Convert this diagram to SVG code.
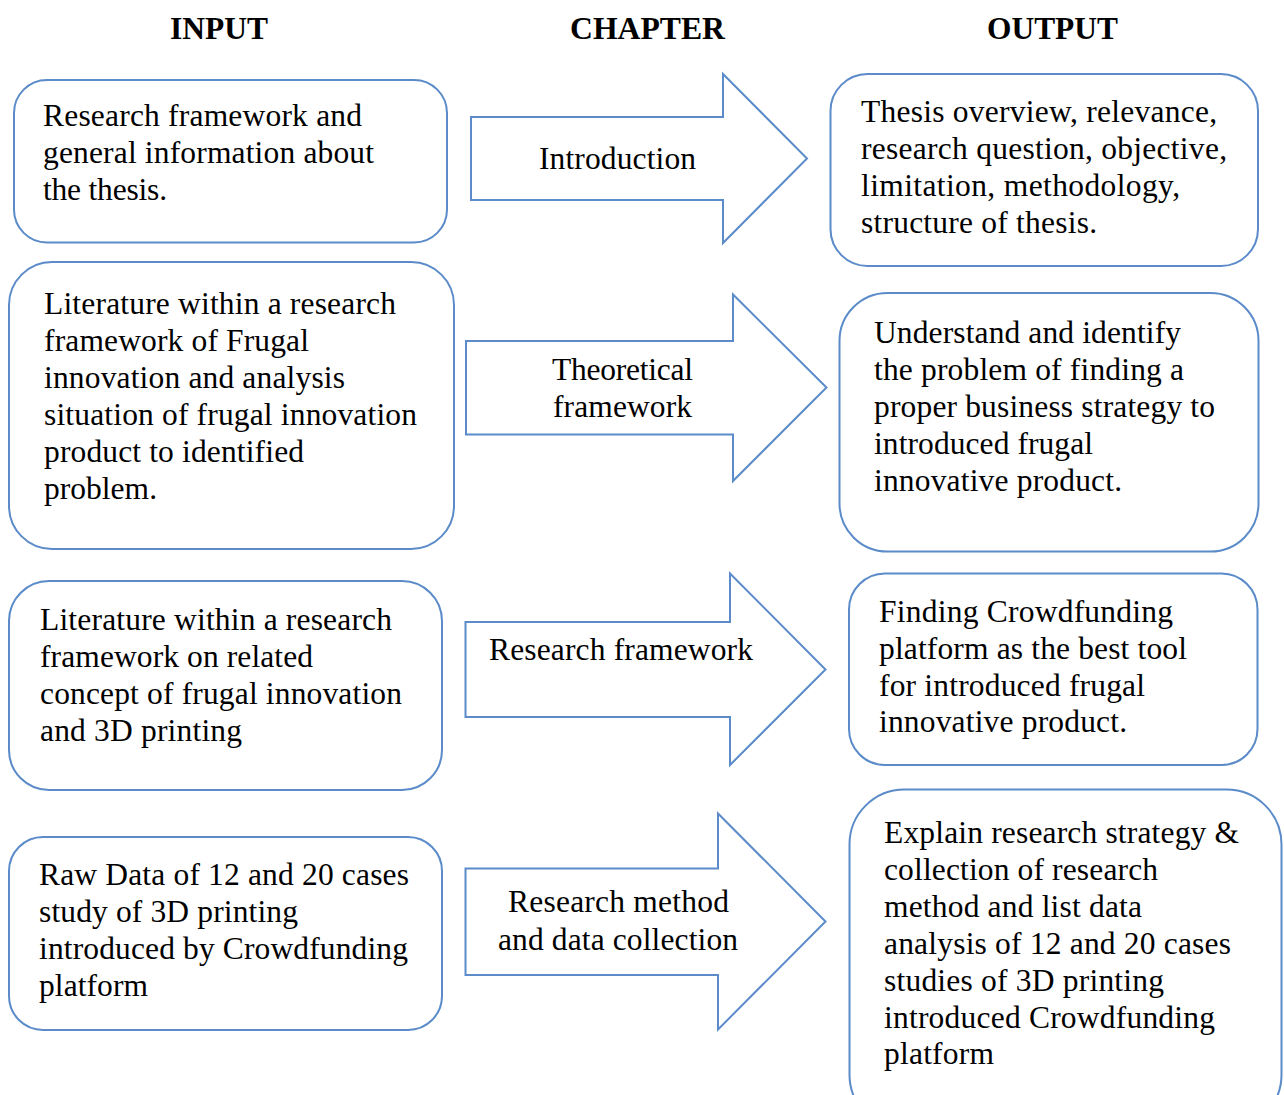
<svg xmlns="http://www.w3.org/2000/svg" width="1284" height="1095" viewBox="0 0 1284 1095">
  <style>
    .box { fill: #ffffff; stroke: #5b8bc9; stroke-width: 2; }
    .arrow { fill: #ffffff; stroke: #5b8bc9; stroke-width: 2; stroke-linejoin: miter; }
    text { font-family: "Liberation Serif", "Times New Roman", serif; font-size: 31.5px; fill: #000000; }
    .head { font-weight: bold; font-size: 31px; }
  </style>
  <rect width="1284" height="1095" fill="#ffffff"/>

  <!-- column headings -->
  <g id="headings">
    <text class="head" x="170" y="39" textLength="98" lengthAdjust="spacingAndGlyphs">INPUT</text>
    <text class="head" x="570" y="39" textLength="155" lengthAdjust="spacingAndGlyphs">CHAPTER</text>
    <text class="head" x="987" y="39" textLength="131" lengthAdjust="spacingAndGlyphs">OUTPUT</text>
  </g>

  <!-- chapter arrows -->
  <g id="connectors">
    <g id="arrow-introduction">
      <polygon class="arrow" points="471,117 723,117 723,74 807,158.5 723,243 723,200 471,200"/>
      <text x="539" y="169" textLength="157" lengthAdjust="spacing">Introduction</text>
    </g>
    <g id="arrow-theoretical">
      <polygon class="arrow" points="466,341 733,341 733,294.5 826.5,387.5 733,481 733,434.5 466,434.5"/>
      <text x="552" y="380" textLength="141" lengthAdjust="spacing">Theoretical</text>
      <text x="553" y="417" textLength="139" lengthAdjust="spacing">framework</text>
    </g>
    <g id="arrow-research-framework">
      <polygon class="arrow" points="465.5,622 730,622 730,573.5 825.5,669.5 730,765 730,717 465.5,717"/>
      <text x="489" y="660" textLength="264" lengthAdjust="spacing">Research framework</text>
    </g>
    <g id="arrow-research-method">
      <polygon class="arrow" points="465.5,868.5 718,868.5 718,813.5 825.5,921.5 718,1029.5 718,975 465.5,975"/>
      <text x="508" y="912" textLength="221" lengthAdjust="spacing">Research method</text>
      <text x="498" y="950" textLength="240" lengthAdjust="spacing">and data collection</text>
    </g>
  </g>

  <!-- input column -->
  <g id="input-1">
    <rect class="box" x="14" y="80" width="433" height="162.5" rx="33" ry="33"/>
    <text x="43" y="126" textLength="319" lengthAdjust="spacing">Research framework and</text>
    <text x="43" y="163" textLength="331" lengthAdjust="spacing">general information about</text>
    <text x="43" y="200" textLength="124" lengthAdjust="spacing">the thesis.</text>
  </g>
  <g id="input-2">
    <rect class="box" x="9" y="262" width="445" height="287" rx="43" ry="43"/>
    <text x="44" y="314" textLength="352" lengthAdjust="spacing">Literature within a research</text>
    <text x="44" y="351" textLength="265" lengthAdjust="spacing">framework of Frugal</text>
    <text x="44" y="388" textLength="301" lengthAdjust="spacing">innovation and analysis</text>
    <text x="44" y="425" textLength="373" lengthAdjust="spacing">situation of frugal innovation</text>
    <text x="44" y="462" textLength="260" lengthAdjust="spacing">product to identified</text>
    <text x="44" y="499" textLength="113" lengthAdjust="spacing">problem.</text>
  </g>
  <g id="input-3">
    <rect class="box" x="9" y="581" width="433" height="209" rx="40" ry="40"/>
    <text x="40" y="630" textLength="352" lengthAdjust="spacing">Literature within a research</text>
    <text x="40" y="667" textLength="273" lengthAdjust="spacing">framework on related</text>
    <text x="40" y="704" textLength="362" lengthAdjust="spacing">concept of frugal innovation</text>
    <text x="40" y="741" textLength="202" lengthAdjust="spacing">and 3D printing</text>
  </g>
  <g id="input-4">
    <rect class="box" x="9" y="837" width="433" height="193" rx="34" ry="34"/>
    <text x="39" y="885" textLength="370" lengthAdjust="spacing">Raw Data of 12 and 20 cases</text>
    <text x="39" y="922" textLength="259" lengthAdjust="spacing">study of 3D printing</text>
    <text x="39" y="959" textLength="369" lengthAdjust="spacing">introduced by Crowdfunding</text>
    <text x="39" y="996" textLength="109" lengthAdjust="spacing">platform</text>
  </g>

  <!-- output column -->
  <g id="output-1">
    <rect class="box" x="830.5" y="74" width="427.5" height="192" rx="37" ry="37"/>
    <text x="861" y="122" textLength="356" lengthAdjust="spacing">Thesis overview, relevance,</text>
    <text x="861" y="159" textLength="366" lengthAdjust="spacing">research question, objective,</text>
    <text x="861" y="196" textLength="319" lengthAdjust="spacing">limitation, methodology,</text>
    <text x="861" y="233" textLength="236" lengthAdjust="spacing">structure of thesis.</text>
  </g>
  <g id="output-2">
    <rect class="box" x="839.5" y="293" width="419" height="258.5" rx="48" ry="48"/>
    <text x="874" y="343" textLength="307" lengthAdjust="spacing">Understand and identify</text>
    <text x="874" y="380" textLength="310" lengthAdjust="spacing">the problem of finding a</text>
    <text x="874" y="417" textLength="341" lengthAdjust="spacing">proper business strategy to</text>
    <text x="874" y="454" textLength="219" lengthAdjust="spacing">introduced frugal</text>
    <text x="874" y="491" textLength="248" lengthAdjust="spacing">innovative product.</text>
  </g>
  <g id="output-3">
    <rect class="box" x="849" y="573.5" width="408.5" height="191.5" rx="36" ry="36"/>
    <text x="879" y="622" textLength="294" lengthAdjust="spacing">Finding Crowdfunding</text>
    <text x="879" y="659" textLength="308" lengthAdjust="spacing">platform as the best tool</text>
    <text x="879" y="696" textLength="266" lengthAdjust="spacing">for introduced frugal</text>
    <text x="879" y="732" textLength="248" lengthAdjust="spacing">innovative product.</text>
  </g>
  <g id="output-4">
    <rect class="box" x="849.5" y="789.5" width="432" height="340" rx="55" ry="55"/>
    <text x="884" y="843" textLength="355" lengthAdjust="spacing">Explain research strategy &amp;</text>
    <text x="884" y="880" textLength="274" lengthAdjust="spacing">collection of research</text>
    <text x="884" y="917" textLength="258" lengthAdjust="spacing">method and list data</text>
    <text x="884" y="954" textLength="347" lengthAdjust="spacing">analysis of 12 and 20 cases</text>
    <text x="884" y="991" textLength="280" lengthAdjust="spacing">studies of 3D printing</text>
    <text x="884" y="1028" textLength="331" lengthAdjust="spacing">introduced Crowdfunding</text>
    <text x="884" y="1064" textLength="110" lengthAdjust="spacing">platform</text>
  </g>
</svg>
